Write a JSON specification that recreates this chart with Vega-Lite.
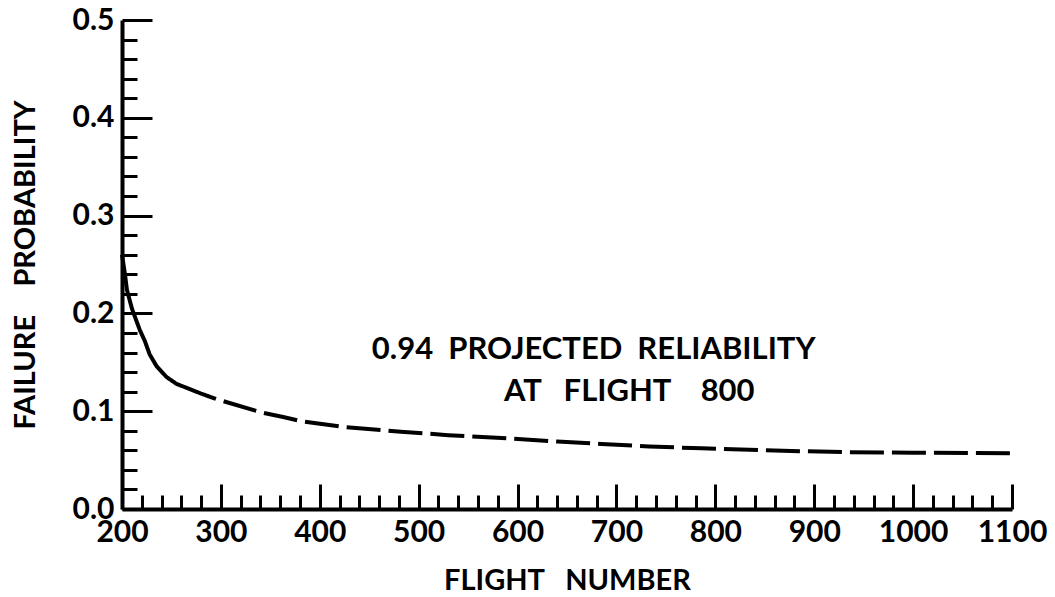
{
  "$schema": "https://vega.github.io/schema/vega-lite/v6.json",
  "width": 890,
  "height": 489,
  "autosize": "none",
  "padding": {"left": 122, "top": 20, "right": 43, "bottom": 88},
  "background": "white",
  "config": {
    "view": {"stroke": null},
    "font": "Lato",
    "axis": {
      "domainColor": "black",
      "domainWidth": 4,
      "tickColor": "black",
      "tickWidth": 3,
      "grid": false,
      "labelFont": "Lato",
      "labelFontWeight": "bold",
      "labelFontSize": 30,
      "labelColor": "black",
      "titleFont": "Lato",
      "titleFontWeight": "bold",
      "titleFontSize": 29,
      "titleColor": "black"
    }
  },
  "datasets": {
    "curve": [
      {"flight": 200, "p": 0.26, "seg": "solid"},
      {"flight": 203, "p": 0.24, "seg": "solid"},
      {"flight": 205, "p": 0.224, "seg": "solid"},
      {"flight": 210, "p": 0.205, "seg": "solid"},
      {"flight": 218, "p": 0.183, "seg": "solid"},
      {"flight": 223, "p": 0.172, "seg": "solid"},
      {"flight": 228, "p": 0.158, "seg": "solid"},
      {"flight": 235, "p": 0.146, "seg": "solid"},
      {"flight": 245, "p": 0.135, "seg": "solid"},
      {"flight": 255, "p": 0.128, "seg": "solid"},
      {"flight": 265, "p": 0.124, "seg": "solid"},
      {"flight": 280, "p": 0.118, "seg": "solid"},
      {"flight": 295, "p": 0.1125, "seg": "solid"},
      {"flight": 295, "p": 0.1125, "seg": "dashed"},
      {"flight": 340, "p": 0.099, "seg": "dashed"},
      {"flight": 363, "p": 0.094, "seg": "dashed"},
      {"flight": 380, "p": 0.09, "seg": "dashed"},
      {"flight": 423, "p": 0.084, "seg": "dashed"},
      {"flight": 482, "p": 0.079, "seg": "dashed"},
      {"flight": 530, "p": 0.0755, "seg": "dashed"},
      {"flight": 584, "p": 0.0726, "seg": "dashed"},
      {"flight": 640, "p": 0.069, "seg": "dashed"},
      {"flight": 685, "p": 0.0665, "seg": "dashed"},
      {"flight": 733, "p": 0.064, "seg": "dashed"},
      {"flight": 786, "p": 0.062, "seg": "dashed"},
      {"flight": 850, "p": 0.06, "seg": "dashed"},
      {"flight": 935, "p": 0.058, "seg": "dashed"},
      {"flight": 1000, "p": 0.0575, "seg": "dashed"},
      {"flight": 1100, "p": 0.057, "seg": "dashed"}
    ],
    "notes": [
      {"flight": 677, "p": 0.1626, "text": "0.94\u00a0\u00a0PROJECTED\u00a0\u00a0RELIABILITY"},
      {"flight": 713, "p": 0.1196, "text": "AT\u00a0\u00a0\u00a0FLIGHT\u00a0\u00a0\u00a0\u00a0800"}
    ]
  },
  "layer": [
    {
      "data": {"name": "curve"},
      "mark": {"type": "line", "color": "black", "strokeWidth": 4, "strokeCap": "butt", "strokeDashOffset": 34},
      "encoding": {
        "x": {
          "field": "flight",
          "type": "quantitative",
          "scale": {"domain": [200, 1100], "nice": false, "zero": false},
          "axis": {
            "title": "FLIGHT\u00a0\u00a0\u00a0NUMBER",
            "titlePadding": 8,
            "tickCount": 200,
            "values": [200,220,240,260,280,300,320,340,360,380,400,420,440,460,480,500,520,540,560,580,600,620,640,660,680,700,720,740,760,780,800,820,840,860,880,900,920,940,960,980,1000,1020,1040,1060,1080,1100],
            "tickSize": {"condition": {"test": "datum.value % 100 === 0", "value": -25}, "value": -14},
            "labelExpr": "datum.value % 100 === 0 ? datum.label : ''",
            "labelPadding": 33,
            "labelFlush": false,
            "labelOverlap": false,
            "format": "d"
          }
        },
        "y": {
          "field": "p",
          "type": "quantitative",
          "scale": {"domain": [0, 0.5], "nice": false},
          "axis": {
            "title": "FAILURE\u00a0\u00a0\u00a0\u00a0PROBABILITY",
            "titlePadding": 32,
            "tickCount": 200,
            "values": [0,0.02,0.04,0.06,0.08,0.1,0.12,0.14,0.16,0.18,0.2,0.22,0.24,0.26,0.28,0.3,0.32,0.34,0.36,0.38,0.4,0.42,0.44,0.46,0.48,0.5],
            "tickSize": {"condition": {"test": "abs(datum.value*10 - round(datum.value*10)) < 0.000001", "value": -30}, "value": -15},
            "labelExpr": "abs(datum.value*10 - round(datum.value*10)) < 0.000001 ? format(datum.value, '.1f') : ''",
            "labelPadding": 38,
            "labelFlush": false,
            "labelOverlap": false
          }
        },
        "strokeDash": {
          "field": "seg",
          "type": "nominal",
          "scale": {"domain": ["solid", "dashed"], "range": [[1, 0], [34, 8]]},
          "legend": null
        }
      }
    },
    {
      "data": {"name": "notes"},
      "mark": {"type": "text", "font": "Lato", "fontWeight": "bold", "fontSize": 31, "color": "black", "align": "center", "baseline": "middle"},
      "encoding": {
        "x": {"field": "flight", "type": "quantitative"},
        "y": {"field": "p", "type": "quantitative"},
        "text": {"field": "text"}
      }
    }
  ]
}
